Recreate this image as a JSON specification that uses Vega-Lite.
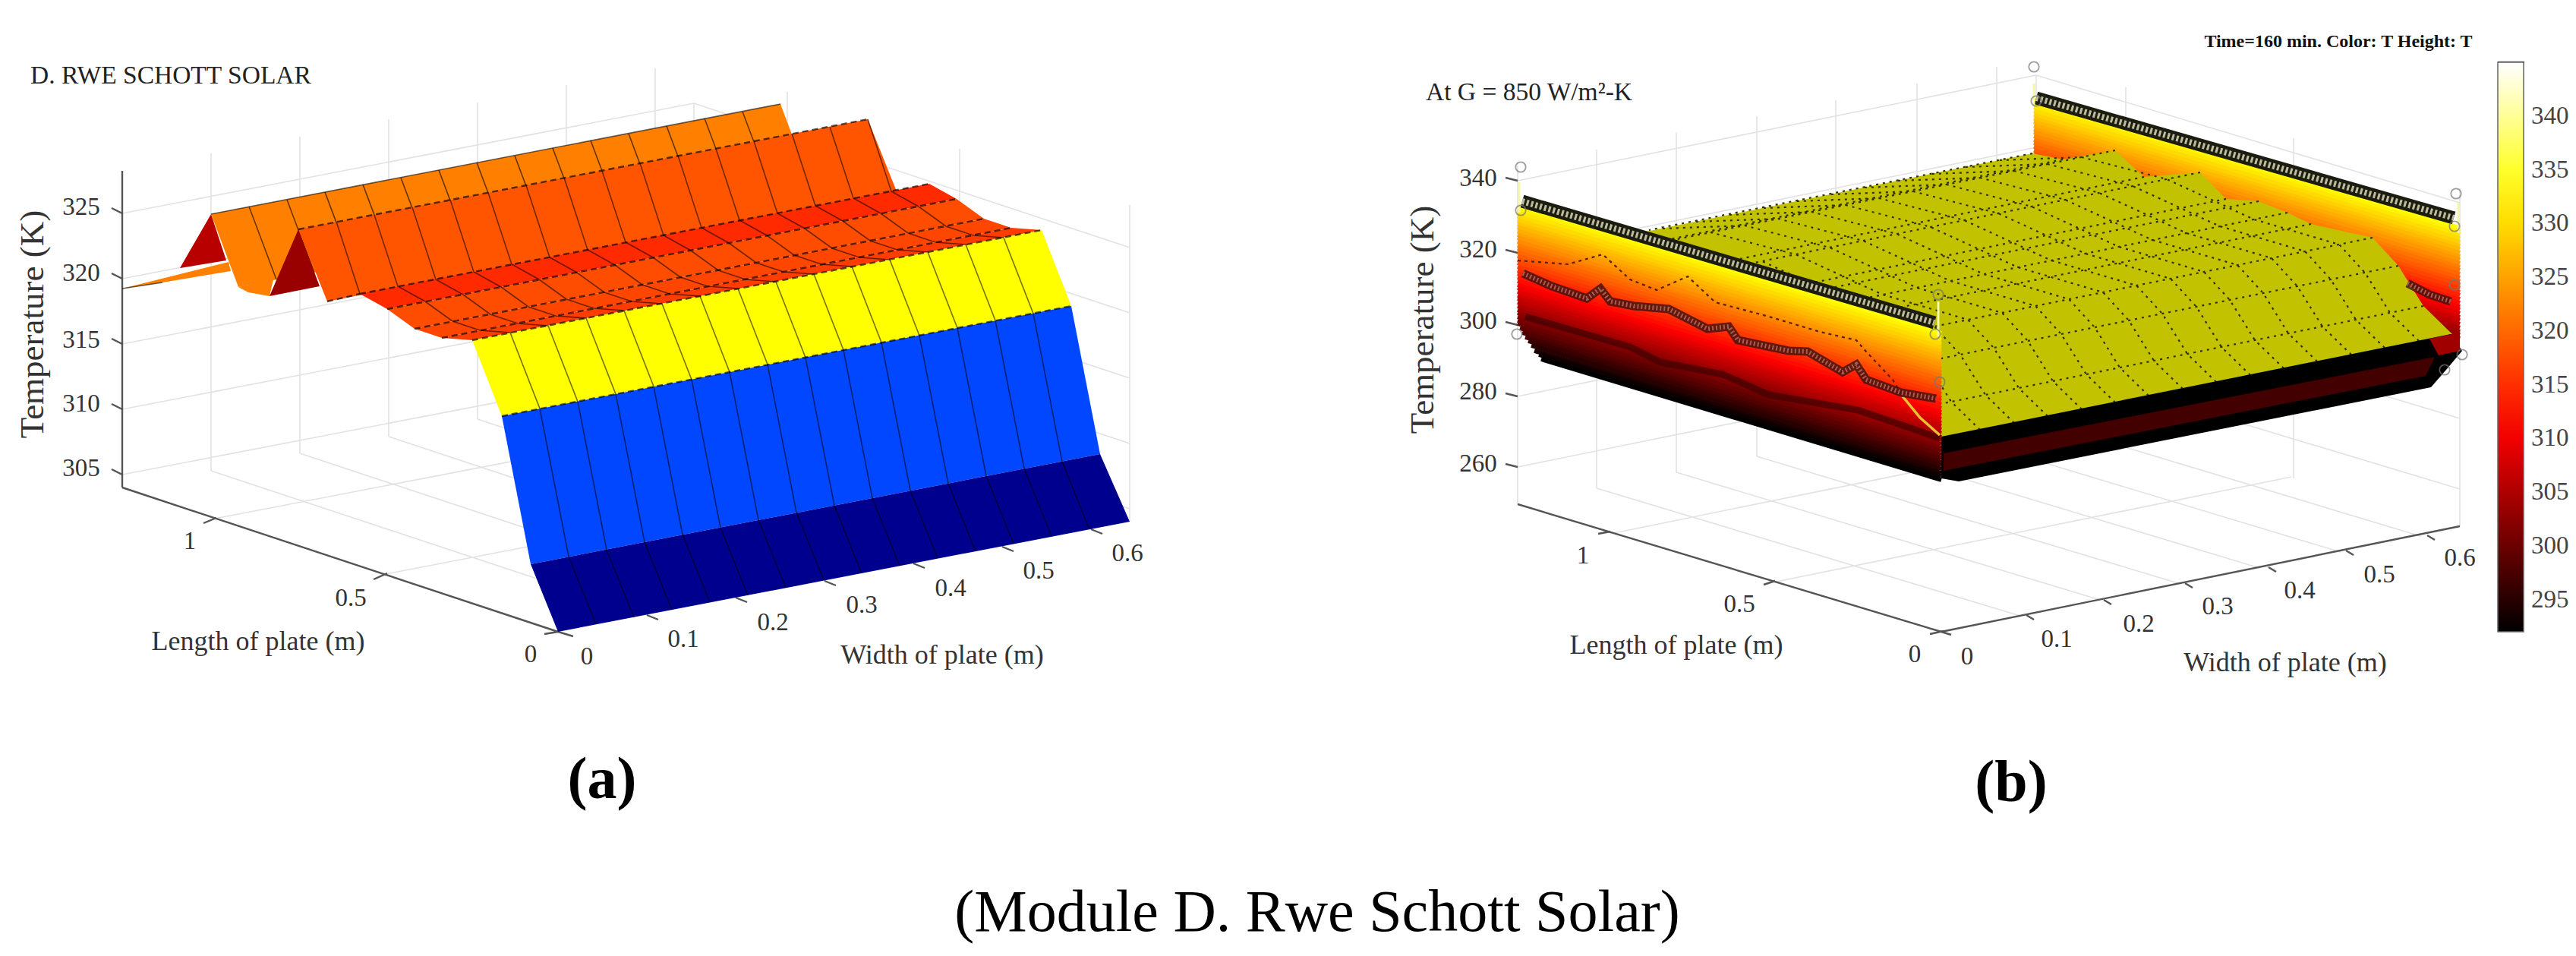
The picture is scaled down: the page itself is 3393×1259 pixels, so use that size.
{
"$schema":"https://vega.github.io/schema/vega-lite/v6.json",
"width":3393,"height":1259,"autosize":{"type":"none"},"padding":0,"background":"white",
"config":{"view":{"stroke":null}},
"resolve":{"scale":{"color":"independent"}},
"datasets":{
"grid":[
{"x":161,"y":281,"x2":914,"y2":136},{"x":161,"y":367,"x2":914,"y2":222},{"x":161,"y":453,"x2":914,"y2":308},{"x":161,"y":539,"x2":914,"y2":394},{"x":161,"y":625,"x2":914,"y2":480},
{"x":914,"y":136,"x2":1488,"y2":326},{"x":914,"y":222,"x2":1488,"y2":412},{"x":914,"y":308,"x2":1488,"y2":498},{"x":914,"y":394,"x2":1488,"y2":584},{"x":914,"y":480,"x2":1488,"y2":670},
{"x":278,"y":202,"x2":278,"y2":620},{"x":395,"y":180,"x2":395,"y2":597},{"x":512,"y":157,"x2":512,"y2":575},{"x":629,"y":135,"x2":629,"y2":552},{"x":746,"y":112,"x2":746,"y2":530},{"x":863,"y":90,"x2":863,"y2":507},{"x":914,"y":136,"x2":914,"y2":497},
{"x":1037,"y":121,"x2":1037,"y2":538},{"x":1264,"y":196,"x2":1264,"y2":612},{"x":1488,"y":270,"x2":1488,"y2":687},
{"x":278,"y":620,"x2":852,"y2":810},{"x":395,"y":597,"x2":969,"y2":787},{"x":512,"y":575,"x2":1086,"y2":765},{"x":629,"y":552,"x2":1203,"y2":742},{"x":746,"y":530,"x2":1320,"y2":720},{"x":863,"y":507,"x2":1437,"y2":697},
{"x":283,"y":683,"x2":1036,"y2":538},{"x":503,"y":757,"x2":1256,"y2":612},
{"x":1999,"y":238,"x2":2682,"y2":99},{"x":1999,"y":333,"x2":2682,"y2":194},{"x":1999,"y":428,"x2":2682,"y2":289},{"x":1999,"y":522,"x2":2682,"y2":383},{"x":1999,"y":615,"x2":2682,"y2":476},
{"x":2682,"y":99,"x2":3240,"y2":267},{"x":2682,"y":194,"x2":3240,"y2":362},{"x":2682,"y":289,"x2":3240,"y2":457},{"x":2682,"y":383,"x2":3240,"y2":551},{"x":2682,"y":476,"x2":3240,"y2":644},
{"x":1999,"y":218,"x2":1999,"y2":664},{"x":2103,"y":197,"x2":2103,"y2":643},{"x":2208,"y":175,"x2":2208,"y2":622},{"x":2314,"y":153,"x2":2314,"y2":601},{"x":2418,"y":132,"x2":2418,"y2":580},{"x":2525,"y":110,"x2":2525,"y2":559},{"x":2630,"y":88,"x2":2630,"y2":538},{"x":2682,"y":99,"x2":2682,"y2":525},{"x":2800,"y":115,"x2":2800,"y2":561},{"x":3021,"y":182,"x2":3021,"y2":630},{"x":3240,"y":248,"x2":3240,"y2":693},
{"x":2103,"y":643,"x2":2661,"y2":811},{"x":2208,"y":622,"x2":2766,"y2":790},{"x":2314,"y":601,"x2":2872,"y2":769},{"x":2418,"y":580,"x2":2976,"y2":748},{"x":2525,"y":559,"x2":3083,"y2":727},{"x":2630,"y":538,"x2":3188,"y2":706},
{"x":2121,"y":703,"x2":2804,"y2":564},{"x":2335,"y":767,"x2":3018,"y2":628}
],
"axes":[
{"x":161,"y":225,"x2":161,"y2":642},{"x":161,"y":642,"x2":735,"y2":832},
{"x":147,"y":274,"x2":161,"y2":281},{"x":147,"y":360,"x2":161,"y2":367},{"x":147,"y":446,"x2":161,"y2":453},{"x":147,"y":532,"x2":161,"y2":539},{"x":147,"y":618,"x2":161,"y2":625},
{"x":268,"y":689,"x2":285,"y2":682},{"x":492,"y":763,"x2":510,"y2":755},{"x":717,"y":835,"x2":735,"y2":832},
{"x":735,"y":832,"x2":755,"y2":838},{"x":852,"y":810,"x2":867,"y2":816},{"x":969,"y":787,"x2":984,"y2":793},{"x":1086,"y":765,"x2":1101,"y2":771},{"x":1203,"y":742,"x2":1218,"y2":748},{"x":1320,"y":720,"x2":1335,"y2":726},{"x":1437,"y":697,"x2":1452,"y2":703},
{"x":1999,"y":664,"x2":2557,"y2":832},{"x":2557,"y":832,"x2":3240,"y2":693},
{"x":1983,"y":234,"x2":1999,"y2":238},{"x":1983,"y":329,"x2":1999,"y2":333},{"x":1983,"y":424,"x2":1999,"y2":428},{"x":1983,"y":518,"x2":1999,"y2":522},{"x":1983,"y":611,"x2":1999,"y2":615},
{"x":2105,"y":703,"x2":2121,"y2":700},{"x":2323,"y":770,"x2":2338,"y2":765},{"x":2542,"y":835,"x2":2560,"y2":831},
{"x":2557,"y":832,"x2":2570,"y2":836},{"x":2669,"y":810,"x2":2679,"y2":816},{"x":2771,"y":790,"x2":2781,"y2":796},{"x":2878,"y":768,"x2":2888,"y2":774},{"x":2988,"y":747,"x2":2998,"y2":753},{"x":3090,"y":725,"x2":3100,"y2":731},{"x":3197,"y":705,"x2":3207,"y2":711},
{"x":3290,"y":82,"x2":3325,"y2":82},
{"x":3318,"y":152,"x2":3324,"y2":152},{"x":3318,"y":222,"x2":3324,"y2":222},{"x":3318,"y":293,"x2":3324,"y2":293},{"x":3318,"y":364,"x2":3324,"y2":364},{"x":3318,"y":435,"x2":3324,"y2":435},{"x":3318,"y":506,"x2":3324,"y2":506},{"x":3318,"y":577,"x2":3324,"y2":577},{"x":3318,"y":649,"x2":3324,"y2":649},{"x":3318,"y":720,"x2":3324,"y2":720},{"x":3318,"y":790,"x2":3324,"y2":790}
],
"aBack":[
{"p":"strip","b":"orange","x":161,"y":380},{"p":"strip","b":"orange","x":301,"y":345},{"p":"strip","b":"orange","x":304,"y":357},{"p":"strip","b":"orange","x":214,"y":372},
{"p":"tri1","b":"darkred","x":278,"y":282},{"p":"tri1","b":"darkred","x":237,"y":353},{"p":"tri1","b":"darkred","x":298,"y":343},
{"p":"rowA","b":"orange","x":278,"y":282},{"p":"rowA","b":"orange","x":1028,"y":137},{"p":"rowA","b":"orange","x":1064,"y":233},{"p":"rowA","b":"orange","x":314,"y":378},
{"p":"rowB","b":"orange","x":314,"y":378},{"p":"rowB","b":"orange","x":360,"y":368},{"p":"rowB","b":"orange","x":355,"y":390},{"p":"rowB","b":"orange","x":327,"y":385}
],
"aBackCols":[
{"x":328,"y":272,"x2":364,"y2":368},{"x":378,"y":263,"x2":414,"y2":359},{"x":428,"y":253,"x2":464,"y2":349},{"x":478,"y":243,"x2":514,"y2":339},{"x":528,"y":234,"x2":564,"y2":330},{"x":578,"y":224,"x2":614,"y2":320},{"x":628,"y":214,"x2":664,"y2":310},{"x":678,"y":205,"x2":714,"y2":301},{"x":728,"y":195,"x2":764,"y2":291},{"x":778,"y":185,"x2":814,"y2":281},{"x":828,"y":176,"x2":864,"y2":272},{"x":878,"y":166,"x2":914,"y2":262},{"x":928,"y":156,"x2":964,"y2":252},{"x":978,"y":147,"x2":1014,"y2":243},
{"x":278,"y":282,"x2":1028,"y2":137},{"x":161,"y":380,"x2":214,"y2":372}
],
"aFront":[
{"p":"tri2","b":"maroon","x":393,"y":302},{"p":"tri2","b":"maroon","x":355,"y":390},{"p":"tri2","b":"maroon","x":421,"y":377},
{"p":"wall","b":"orangered","x":393,"y":302},{"p":"wall","b":"orangered","x":1143,"y":157},{"p":"wall","b":"orangered","x":1181,"y":252},{"p":"wall","b":"orangered","x":431,"y":397},
{"p":"D","b":"scarlet","x":474,"y":387},{"p":"D","b":"scarlet","x":1224,"y":242},{"p":"D","b":"scarlet","x":1260,"y":262},{"p":"D","b":"scarlet","x":510,"y":407},
{"p":"E","b":"red1","x":510,"y":407},{"p":"E","b":"red1","x":1260,"y":262},{"p":"E","b":"red1","x":1296,"y":288},{"p":"E","b":"red1","x":546,"y":433},
{"p":"F","b":"red2","x":546,"y":433},{"p":"F","b":"red2","x":1296,"y":288},{"p":"F","b":"red2","x":1332,"y":300},{"p":"F","b":"red2","x":582,"y":445},
{"p":"G","b":"red3","x":582,"y":445},{"p":"G","b":"red3","x":1332,"y":300},{"p":"G","b":"red3","x":1372,"y":303},{"p":"G","b":"red3","x":622,"y":448},
{"p":"Y","b":"yellow","x":622,"y":448},{"p":"Y","b":"yellow","x":1372,"y":303},{"p":"Y","b":"yellow","x":1411,"y":403},{"p":"Y","b":"yellow","x":661,"y":548},
{"p":"L","b":"blue","x":661,"y":548},{"p":"L","b":"blue","x":1411,"y":403},{"p":"L","b":"blue","x":1449,"y":598},{"p":"L","b":"blue","x":699,"y":743},
{"p":"N","b":"navy","x":699,"y":743},{"p":"N","b":"navy","x":1449,"y":598},{"p":"N","b":"navy","x":1488,"y":687},{"p":"N","b":"navy","x":735,"y":832}
],
"aCols":[
{"c":0,"x":443,"y":292},{"c":0,"x":474,"y":387},
{"c":1,"x":493,"y":283},{"c":1,"x":524,"y":377},{"c":1,"x":560,"y":397},{"c":1,"x":596,"y":423},{"c":1,"x":632,"y":435},{"c":1,"x":672,"y":438},{"c":1,"x":711,"y":538},{"c":1,"x":749,"y":733},{"c":1,"x":785,"y":822},
{"c":2,"x":543,"y":273},{"c":2,"x":574,"y":368},{"c":2,"x":610,"y":388},{"c":2,"x":646,"y":414},{"c":2,"x":682,"y":426},{"c":2,"x":722,"y":429},{"c":2,"x":761,"y":529},{"c":2,"x":799,"y":724},{"c":2,"x":835,"y":813},
{"c":3,"x":593,"y":263},{"c":3,"x":624,"y":358},{"c":3,"x":660,"y":378},{"c":3,"x":696,"y":404},{"c":3,"x":732,"y":416},{"c":3,"x":772,"y":419},{"c":3,"x":811,"y":519},{"c":3,"x":849,"y":714},{"c":3,"x":885,"y":803},
{"c":4,"x":643,"y":254},{"c":4,"x":674,"y":348},{"c":4,"x":710,"y":368},{"c":4,"x":746,"y":394},{"c":4,"x":782,"y":406},{"c":4,"x":822,"y":409},{"c":4,"x":861,"y":509},{"c":4,"x":899,"y":704},{"c":4,"x":935,"y":793},
{"c":5,"x":693,"y":244},{"c":5,"x":724,"y":339},{"c":5,"x":760,"y":359},{"c":5,"x":796,"y":385},{"c":5,"x":832,"y":397},{"c":5,"x":872,"y":400},{"c":5,"x":911,"y":500},{"c":5,"x":949,"y":695},{"c":5,"x":985,"y":784},
{"c":6,"x":743,"y":234},{"c":6,"x":774,"y":329},{"c":6,"x":810,"y":349},{"c":6,"x":846,"y":375},{"c":6,"x":882,"y":387},{"c":6,"x":922,"y":390},{"c":6,"x":961,"y":490},{"c":6,"x":999,"y":685},{"c":6,"x":1035,"y":774},
{"c":7,"x":793,"y":225},{"c":7,"x":824,"y":319},{"c":7,"x":860,"y":339},{"c":7,"x":896,"y":365},{"c":7,"x":932,"y":377},{"c":7,"x":972,"y":380},{"c":7,"x":1011,"y":480},{"c":7,"x":1049,"y":675},{"c":7,"x":1085,"y":764},
{"c":8,"x":843,"y":215},{"c":8,"x":874,"y":310},{"c":8,"x":910,"y":330},{"c":8,"x":946,"y":356},{"c":8,"x":982,"y":368},{"c":8,"x":1022,"y":371},{"c":8,"x":1061,"y":471},{"c":8,"x":1099,"y":666},{"c":8,"x":1135,"y":755},
{"c":9,"x":893,"y":205},{"c":9,"x":924,"y":300},{"c":9,"x":960,"y":320},{"c":9,"x":996,"y":346},{"c":9,"x":1032,"y":358},{"c":9,"x":1072,"y":361},{"c":9,"x":1111,"y":461},{"c":9,"x":1149,"y":656},{"c":9,"x":1185,"y":745},
{"c":10,"x":943,"y":196},{"c":10,"x":974,"y":290},{"c":10,"x":1010,"y":310},{"c":10,"x":1046,"y":336},{"c":10,"x":1082,"y":348},{"c":10,"x":1122,"y":351},{"c":10,"x":1161,"y":451},{"c":10,"x":1199,"y":646},{"c":10,"x":1235,"y":735},
{"c":11,"x":993,"y":186},{"c":11,"x":1024,"y":281},{"c":11,"x":1060,"y":301},{"c":11,"x":1096,"y":327},{"c":11,"x":1132,"y":339},{"c":11,"x":1172,"y":342},{"c":11,"x":1211,"y":442},{"c":11,"x":1249,"y":637},{"c":11,"x":1285,"y":726},
{"c":12,"x":1043,"y":176},{"c":12,"x":1074,"y":271},{"c":12,"x":1110,"y":291},{"c":12,"x":1146,"y":317},{"c":12,"x":1182,"y":329},{"c":12,"x":1222,"y":332},{"c":12,"x":1261,"y":432},{"c":12,"x":1299,"y":627},{"c":12,"x":1335,"y":716},
{"c":13,"x":1093,"y":167},{"c":13,"x":1124,"y":261},{"c":13,"x":1160,"y":281},{"c":13,"x":1196,"y":307},{"c":13,"x":1232,"y":319},{"c":13,"x":1272,"y":322},{"c":13,"x":1311,"y":422},{"c":13,"x":1349,"y":617},{"c":13,"x":1385,"y":706},
{"c":14,"x":1143,"y":157},{"c":14,"x":1174,"y":252},{"c":14,"x":1210,"y":272},{"c":14,"x":1246,"y":298},{"c":14,"x":1282,"y":310},{"c":14,"x":1322,"y":313},{"c":14,"x":1361,"y":413},{"c":14,"x":1399,"y":608},{"c":14,"x":1435,"y":697}
],
"aRows":[
{"x":393,"y":302,"x2":1143,"y2":157},{"x":431,"y":397,"x2":474,"y2":387},{"x":474,"y":387,"x2":1224,"y2":242},{"x":510,"y":407,"x2":1260,"y2":262},{"x":546,"y":433,"x2":1296,"y2":288},{"x":582,"y":445,"x2":1332,"y2":300},{"x":622,"y":448,"x2":1372,"y2":303},{"x":661,"y":548,"x2":1411,"y2":403}
],
"farWall":[
{"T":333,"x":2679,"y":132,"x2":3240,"y2":300},{"T":332,"x":2679,"y":137,"x2":3240,"y2":305},{"T":331,"x":2679,"y":141,"x2":3240,"y2":309},{"T":330,"x":2679,"y":146,"x2":3240,"y2":314},{"T":329,"x":2679,"y":151,"x2":3240,"y2":319},{"T":328,"x":2679,"y":156,"x2":3240,"y2":324},{"T":327,"x":2679,"y":160,"x2":3240,"y2":328},{"T":326,"x":2679,"y":165,"x2":3240,"y2":333},{"T":325,"x":2679,"y":170,"x2":3240,"y2":338},{"T":324,"x":2679,"y":174,"x2":3240,"y2":342},{"T":323,"x":2679,"y":179,"x2":3240,"y2":347},{"T":322,"x":2679,"y":184,"x2":3240,"y2":352},{"T":321,"x":2679,"y":188,"x2":3240,"y2":356},{"T":320,"x":2679,"y":193,"x2":3240,"y2":361},{"T":319,"x":2679,"y":198,"x2":3240,"y2":366},{"T":318,"x":2679,"y":203,"x2":3240,"y2":371},{"T":317,"x":2679,"y":207,"x2":3240,"y2":375},{"T":316,"x":2679,"y":212,"x2":3240,"y2":380},{"T":315,"x":2679,"y":217,"x2":3240,"y2":385},{"T":314,"x":2679,"y":221,"x2":3240,"y2":389},{"T":313,"x":2679,"y":226,"x2":3240,"y2":394},{"T":312,"x":2679,"y":231,"x2":3240,"y2":399},{"T":311,"x":2679,"y":236,"x2":3240,"y2":404},{"T":310,"x":2679,"y":240,"x2":3240,"y2":408},{"T":309,"x":2679,"y":245,"x2":3240,"y2":413},{"T":308,"x":2679,"y":250,"x2":3240,"y2":418},{"T":307,"x":2679,"y":254,"x2":3240,"y2":422},{"T":306,"x":2679,"y":259,"x2":3240,"y2":427},{"T":305,"x":2679,"y":264,"x2":3240,"y2":432},{"T":304,"x":2679,"y":269,"x2":3240,"y2":437},{"T":303,"x":2679,"y":273,"x2":3240,"y2":441},{"T":302,"x":2679,"y":278,"x2":3240,"y2":446}
],
"olive":[
{"x":2677,"y":202},{"x":2717,"y":210},{"x":2786,"y":198},{"x":2824,"y":233},{"x":2898,"y":227},{"x":2932,"y":262},{"x":2975,"y":265},{"x":3013,"y":280},{"x":3044,"y":295},{"x":3125,"y":313},{"x":3159,"y":350},{"x":3192,"y":403},{"x":3230,"y":440},{"x":2560,"y":576},{"x":2300,"y":500},{"x":2011,"y":337}
],
"oCols":[
{"k":1,"x":3186,"y":449},{"k":1,"x":3148,"y":412},{"k":1,"x":3115,"y":359},{"k":1,"x":3081,"y":322},{"k":1,"x":2969,"y":289},{"k":1,"x":2854,"y":236},{"k":1,"x":2742,"y":207},{"k":1,"x":2633,"y":211},
{"k":2,"x":3141,"y":458},{"k":2,"x":3103,"y":421},{"k":2,"x":3070,"y":368},{"k":2,"x":3036,"y":331},{"k":2,"x":2924,"y":298},{"k":2,"x":2809,"y":245},{"k":2,"x":2697,"y":216},{"k":2,"x":2588,"y":220},
{"k":3,"x":3097,"y":467},{"k":3,"x":3059,"y":430},{"k":3,"x":3026,"y":377},{"k":3,"x":2992,"y":340},{"k":3,"x":2880,"y":307},{"k":3,"x":2765,"y":254},{"k":3,"x":2653,"y":225},{"k":3,"x":2544,"y":229},
{"k":4,"x":3052,"y":476},{"k":4,"x":3014,"y":439},{"k":4,"x":2981,"y":386},{"k":4,"x":2947,"y":349},{"k":4,"x":2835,"y":316},{"k":4,"x":2720,"y":263},{"k":4,"x":2608,"y":234},{"k":4,"x":2499,"y":238},
{"k":5,"x":3008,"y":485},{"k":5,"x":2970,"y":448},{"k":5,"x":2937,"y":395},{"k":5,"x":2903,"y":358},{"k":5,"x":2791,"y":325},{"k":5,"x":2676,"y":272},{"k":5,"x":2564,"y":243},{"k":5,"x":2455,"y":247},
{"k":6,"x":2964,"y":494},{"k":6,"x":2926,"y":457},{"k":6,"x":2893,"y":404},{"k":6,"x":2859,"y":367},{"k":6,"x":2747,"y":334},{"k":6,"x":2632,"y":281},{"k":6,"x":2520,"y":252},{"k":6,"x":2411,"y":256},
{"k":7,"x":2919,"y":503},{"k":7,"x":2881,"y":466},{"k":7,"x":2848,"y":413},{"k":7,"x":2814,"y":376},{"k":7,"x":2702,"y":343},{"k":7,"x":2587,"y":290},{"k":7,"x":2475,"y":261},{"k":7,"x":2366,"y":265},
{"k":8,"x":2875,"y":512},{"k":8,"x":2837,"y":475},{"k":8,"x":2804,"y":422},{"k":8,"x":2770,"y":385},{"k":8,"x":2658,"y":352},{"k":8,"x":2543,"y":299},{"k":8,"x":2431,"y":270},{"k":8,"x":2322,"y":274},
{"k":9,"x":2830,"y":521},{"k":9,"x":2792,"y":484},{"k":9,"x":2759,"y":431},{"k":9,"x":2725,"y":394},{"k":9,"x":2613,"y":361},{"k":9,"x":2498,"y":308},{"k":9,"x":2386,"y":279},{"k":9,"x":2277,"y":283},
{"k":10,"x":2786,"y":530},{"k":10,"x":2748,"y":493},{"k":10,"x":2715,"y":440},{"k":10,"x":2681,"y":403},{"k":10,"x":2569,"y":370},{"k":10,"x":2454,"y":317},{"k":10,"x":2342,"y":288},{"k":10,"x":2233,"y":292},
{"k":11,"x":2742,"y":539},{"k":11,"x":2704,"y":502},{"k":11,"x":2671,"y":449},{"k":11,"x":2637,"y":412},{"k":11,"x":2525,"y":379},{"k":11,"x":2410,"y":326},{"k":11,"x":2298,"y":297},{"k":11,"x":2189,"y":301},
{"k":12,"x":2697,"y":548},{"k":12,"x":2659,"y":511},{"k":12,"x":2626,"y":458},{"k":12,"x":2592,"y":421},{"k":12,"x":2480,"y":388},{"k":12,"x":2365,"y":335},{"k":12,"x":2253,"y":306},
{"k":13,"x":2653,"y":557},{"k":13,"x":2615,"y":520},{"k":13,"x":2582,"y":467},{"k":13,"x":2548,"y":430},{"k":13,"x":2436,"y":397},{"k":13,"x":2321,"y":344},
{"k":14,"x":2608,"y":566},{"k":14,"x":2570,"y":529},{"k":14,"x":2537,"y":476},{"k":14,"x":2503,"y":439},{"k":14,"x":2391,"y":406}
],
"oRows":[
{"x":2677,"y":202,"x2":2172,"y2":303},{"x":3192,"y":403,"x2":2526,"y2":538},{"x":3159,"y":350,"x2":2493,"y2":485},{"x":3125,"y":313,"x2":2459,"y2":448},{"x":3044,"y":295,"x2":2378,"y2":430},{"x":3013,"y":280,"x2":2347,"y2":415},{"x":2975,"y":265,"x2":2309,"y2":400},{"x":2932,"y":262,"x2":2266,"y2":397},{"x":2898,"y":227,"x2":2232,"y2":362},{"x":2824,"y":233,"x2":2158,"y2":368},{"x":2786,"y":198,"x2":2120,"y2":333},{"x":2717,"y":210,"x2":2175,"y2":320}
],
"nearWall":[
{"T":333,"x":1999,"y":271,"x2":2557,"y2":439},{"T":332,"x":1999,"y":276,"x2":2557,"y2":444},{"T":331,"x":1999,"y":280,"x2":2557,"y2":448},{"T":330,"x":1999,"y":285,"x2":2557,"y2":453},{"T":329,"x":1999,"y":290,"x2":2557,"y2":458},{"T":328,"x":1999,"y":295,"x2":2557,"y2":463},{"T":327,"x":1999,"y":299,"x2":2557,"y2":467},{"T":326,"x":1999,"y":304,"x2":2557,"y2":472},{"T":325,"x":1999,"y":309,"x2":2557,"y2":477},{"T":324,"x":1999,"y":313,"x2":2557,"y2":481},{"T":323,"x":1999,"y":318,"x2":2557,"y2":486},{"T":322,"x":1999,"y":323,"x2":2557,"y2":491},{"T":321,"x":1999,"y":327,"x2":2557,"y2":495},{"T":320,"x":1999,"y":332,"x2":2557,"y2":500},{"T":319,"x":1999,"y":337,"x2":2557,"y2":505},{"T":318,"x":1999,"y":342,"x2":2557,"y2":510},{"T":317,"x":1999,"y":346,"x2":2557,"y2":514},{"T":316,"x":1999,"y":351,"x2":2557,"y2":519},{"T":315,"x":1999,"y":356,"x2":2557,"y2":524},{"T":314,"x":1999,"y":360,"x2":2557,"y2":528},{"T":313,"x":1999,"y":365,"x2":2557,"y2":533},{"T":312,"x":1999,"y":370,"x2":2557,"y2":538},{"T":311,"x":1999,"y":375,"x2":2557,"y2":543},{"T":310,"x":1999,"y":379,"x2":2557,"y2":547},{"T":309,"x":1999,"y":384,"x2":2557,"y2":552},{"T":308,"x":1999,"y":389,"x2":2557,"y2":557},{"T":307,"x":1999,"y":393,"x2":2557,"y2":561},{"T":306,"x":1999,"y":398,"x2":2557,"y2":566},{"T":305,"x":1999,"y":403,"x2":2557,"y2":571},{"T":304,"x":1999,"y":408,"x2":2557,"y2":576},{"T":303,"x":1999,"y":412,"x2":2557,"y2":580},{"T":302,"x":1999,"y":417,"x2":2557,"y2":585},{"T":301,"x":1999,"y":422,"x2":2557,"y2":590},{"T":300,"x":1999,"y":426,"x2":2557,"y2":594},
{"T":299,"x":2002,"y":432,"x2":2557,"y2":599},{"T":298,"x":2005,"y":438,"x2":2557,"y2":604},{"T":297,"x":2009,"y":444,"x2":2557,"y2":609},{"T":296,"x":2013,"y":449,"x2":2557,"y2":613},{"T":295,"x":2017,"y":455,"x2":2557,"y2":618},{"T":294,"x":2021,"y":462,"x2":2557,"y2":623},{"T":293,"x":2027,"y":467,"x2":2557,"y2":627},{"T":292,"x":2030,"y":473,"x2":2557,"y2":632}
],
"frontFace":[
{"p":"black","T":292,"x":2557,"y":575},{"p":"black","T":292,"x":3228,"y":440},{"p":"black","T":292,"x":3243,"y":462},{"p":"black","T":292,"x":3222,"y":487},{"p":"black","T":292,"x":3202,"y":510},{"p":"black","T":292,"x":2580,"y":634},{"p":"black","T":292,"x":2557,"y":630},
{"p":"dark","T":297,"x":2560,"y":597},{"p":"dark","T":297,"x":3207,"y":470},{"p":"dark","T":297,"x":3195,"y":495},{"p":"dark","T":297,"x":2560,"y":620},
{"p":"tail","T":304,"x":3200,"y":446},{"p":"tail","T":304,"x":3240,"y":438},{"p":"tail","T":304,"x":3240,"y":462},{"p":"tail","T":304,"x":3212,"y":468}
],
"contourThin":[
{"x":1999,"y":343},{"x":2065,"y":348},{"x":2111,"y":335},{"x":2147,"y":368},{"x":2182,"y":382},{"x":2223,"y":364},{"x":2259,"y":398},{"x":2330,"y":417},{"x":2397,"y":437},{"x":2445,"y":448},{"x":2458,"y":463},{"x":2493,"y":500},{"x":2506,"y":522}
],
"contourYellow":[
{"x":2506,"y":522},{"x":2529,"y":550},{"x":2555,"y":573}
],
"contourThick":[
{"c":"l","x":2006,"y":360},{"c":"l","x":2044,"y":377},{"c":"l","x":2090,"y":393},{"c":"l","x":2108,"y":380},{"c":"l","x":2121,"y":397},{"c":"l","x":2152,"y":403},{"c":"l","x":2198,"y":407},{"c":"l","x":2249,"y":433},{"c":"l","x":2277,"y":430},{"c":"l","x":2289,"y":448},{"c":"l","x":2356,"y":462},{"c":"l","x":2381,"y":463},{"c":"l","x":2427,"y":490},{"c":"l","x":2445,"y":480},{"c":"l","x":2458,"y":500},{"c":"l","x":2504,"y":517},{"c":"l","x":2550,"y":525},
{"c":"r","x":3171,"y":373},{"c":"r","x":3200,"y":388},{"c":"r","x":3228,"y":397}
],
"contourDark":[
{"x":2009,"y":417},{"x":2147,"y":457},{"x":2187,"y":477},{"x":2269,"y":493},{"x":2330,"y":520},{"x":2447,"y":540},{"x":2555,"y":577}
],
"bands":[
{"x":2005,"y":265,"x2":2548,"y2":425},{"x":2682,"y":129,"x2":3232,"y2":287}
],
"edges":[
{"x":2001,"y":240,"x2":2001,"y2":280},{"x":2553,"y":397,"x2":2553,"y2":443},{"x":2679,"y":110,"x2":2679,"y2":140},{"x":3238,"y":267,"x2":3238,"y2":307}
],
"circles":[
{"x":2003,"y":220},{"x":2553,"y":388},{"x":2555,"y":503},{"x":2679,"y":88},{"x":3235,"y":255},{"x":2682,"y":133},{"x":3233,"y":298},{"x":2003,"y":277},{"x":1998,"y":440},{"x":2549,"y":440},{"x":3243,"y":467},{"x":3220,"y":487},{"x":3233,"y":375}
],
"tickLabels":[
{"t":"325","x":107,"y":273},{"t":"320","x":107,"y":360},{"t":"315","x":107,"y":448},{"t":"310","x":107,"y":532},{"t":"305","x":107,"y":617},
{"t":"1","x":250,"y":713},{"t":"0.5","x":462,"y":788},{"t":"0","x":699,"y":862},{"t":"0","x":773,"y":865},
{"t":"0.1","x":900,"y":842},{"t":"0.2","x":1018,"y":820},{"t":"0.3","x":1135,"y":797},{"t":"0.4","x":1252,"y":775},{"t":"0.5","x":1368,"y":752},{"t":"0.6","x":1485,"y":729},
{"t":"340","x":1947,"y":235},{"t":"320","x":1947,"y":329},{"t":"300","x":1947,"y":423},{"t":"280","x":1947,"y":516},{"t":"260","x":1947,"y":611},
{"t":"1","x":2085,"y":732},{"t":"0.5","x":2291,"y":796},{"t":"0","x":2522,"y":862},{"t":"0","x":2591,"y":865},
{"t":"0.1","x":2709,"y":842},{"t":"0.2","x":2817,"y":822},{"t":"0.3","x":2921,"y":799},{"t":"0.4","x":3029,"y":778},{"t":"0.5","x":3134,"y":757},{"t":"0.6","x":3240,"y":735}
],
"axisTitles":[
{"t":"Length of plate (m)","x":340,"y":845},{"t":"Width of plate (m)","x":1241,"y":863},{"t":"Length of plate (m)","x":2208,"y":850},{"t":"Width of plate (m)","x":3010,"y":873}
],
"zTitles":[
{"t":"Temperature (K)","x":43,"y":427},{"t":"Temperature (K)","x":1874,"y":421}
],
"panelTitles":[
{"t":"D. RWE SCHOTT SOLAR","x":225,"y":100},{"t":"At G = 850 W/m²-K","x":2014,"y":122}
],
"runInfo":[{"t":"Time=160 min.   Color: T  Height: T","x":3080,"y":55}],
"subLabels":[{"t":"(a)","x":793,"y":1028},{"t":"(b)","x":2649,"y":1032}],
"caption":[{"t":"(Module D. Rwe Schott Solar)","x":1735,"y":1203}]
},
"encoding":{
"x":{"field":"x","type":"quantitative","scale":{"domain":[0,3393],"nice":false,"zero":false},"axis":null},
"y":{"field":"y","type":"quantitative","scale":{"domain":[1259,0],"nice":false,"zero":false},"axis":null}
},
"layer":[
{"data":{"name":"grid"},"mark":{"type":"rule","color":"#e2e2e2","strokeWidth":1.6},"encoding":{"x2":{"field":"x2"},"y2":{"field":"y2"}}},
{"data":{"name":"axes"},"mark":{"type":"rule","color":"#555555","strokeWidth":2.4},"encoding":{"x2":{"field":"x2"},"y2":{"field":"y2"}}},
{"data":{"name":"aBack"},"mark":{"type":"line","filled":true},"encoding":{"order":{"value":null},"detail":{"field":"p"},"color":{"field":"b","type":"nominal","legend":null,"scale":{"domain":["orange","darkred","maroon","orangered","scarlet","red1","red2","red3","yellow","blue","navy"],"range":["#ff8000","#b80000","#990000","#ff5500","#ff2a00","#ff4d00","#ff4600","#ff3c00","#ffff00","#0047ff","#00008f"]}}}},
{"data":{"name":"aBackCols"},"mark":{"type":"rule","color":"#000000","opacity":0.6,"strokeWidth":1.6},"encoding":{"x2":{"field":"x2"},"y2":{"field":"y2"}}},
{"data":{"name":"aFront"},"mark":{"type":"line","filled":true},"encoding":{"order":{"value":null},"detail":{"field":"p"},"color":{"field":"b","type":"nominal","legend":null,"scale":{"domain":["orange","darkred","maroon","orangered","scarlet","red1","red2","red3","yellow","blue","navy"],"range":["#ff8000","#b80000","#990000","#ff5500","#ff2a00","#ff4d00","#ff4600","#ff3c00","#ffff00","#0047ff","#00008f"]}}}},
{"data":{"name":"aCols"},"mark":{"type":"line","color":"#000000","opacity":0.55,"strokeWidth":1.6},"encoding":{"order":{"value":null},"detail":{"field":"c"}}},
{"data":{"name":"aRows"},"mark":{"type":"rule","color":"#000000","opacity":0.65,"strokeWidth":2.4,"strokeDash":[8,5]},"encoding":{"x2":{"field":"x2"},"y2":{"field":"y2"}}},
{"data":{"name":"farWall"},"mark":{"type":"rule","strokeWidth":6},"encoding":{"x2":{"field":"x2"},"y2":{"field":"y2"},"color":{"field":"T","type":"quantitative","scale":{"domain":[292,311,333,345],"range":["#000000","#ff0000","#ffff00","#ffffff"],"interpolate":"rgb"},"legend":{"type":"gradient","orient":"none","legendX":3290,"legendY":82,"direction":"vertical","title":null,"padding":0,"gradientLength":750,"gradientThickness":34,"gradientStrokeColor":"#666666","gradientStrokeWidth":1.5,"values":[295,300,305,310,315,320,325,330,335,340],"labelFont":"Liberation Serif","labelFontSize":33,"labelColor":"#444444","labelOffset":10,"labelOverlap":false}}}},
{"data":{"name":"olive"},"mark":{"type":"line","filled":true,"color":"#c2c200"},"encoding":{"order":{"value":null}}},
{"data":{"name":"oCols"},"mark":{"type":"line","color":"#333300","strokeWidth":2.2,"strokeDash":[3,6]},"encoding":{"order":{"value":null},"detail":{"field":"k"}}},
{"data":{"name":"oRows"},"mark":{"type":"rule","color":"#333300","strokeWidth":2.2,"strokeDash":[3,6]},"encoding":{"x2":{"field":"x2"},"y2":{"field":"y2"}}},
{"data":{"name":"nearWall"},"mark":{"type":"rule","strokeWidth":6},"encoding":{"x2":{"field":"x2"},"y2":{"field":"y2"},"color":{"field":"T","type":"quantitative","legend":null,"scale":{"domain":[292,311,333,345],"range":["#000000","#ff0000","#ffff00","#ffffff"],"interpolate":"rgb"}}}},
{"data":{"name":"frontFace"},"mark":{"type":"line","filled":true},"encoding":{"order":{"value":null},"detail":{"field":"p"},"color":{"field":"T","type":"quantitative","legend":null,"scale":{"domain":[292,311,333,345],"range":["#000000","#ff0000","#ffff00","#ffffff"],"interpolate":"rgb"}}}},
{"data":{"name":"contourDark"},"mark":{"type":"line","color":"#3a0000","opacity":0.65,"strokeWidth":9},"encoding":{"order":{"value":null}}},
{"data":{"name":"contourThin"},"mark":{"type":"line","color":"#5a2000","strokeWidth":2.2,"strokeDash":[4,5]},"encoding":{"order":{"value":null}}},
{"data":{"name":"contourYellow"},"mark":{"type":"line","color":"#e8c030","strokeWidth":3.5},"encoding":{"order":{"value":null}}},
{"data":{"name":"contourThick"},"mark":{"type":"line","color":"#3d1010","opacity":0.8,"strokeWidth":11},"encoding":{"order":{"value":null},"detail":{"field":"c"}}},
{"data":{"name":"contourThick"},"mark":{"type":"line","color":"#a06050","strokeWidth":6,"strokeDash":[2,3]},"encoding":{"order":{"value":null},"detail":{"field":"c"}}},
{"data":{"name":"bands"},"mark":{"type":"rule","color":"#1c1c10","strokeWidth":17},"encoding":{"x2":{"field":"x2"},"y2":{"field":"y2"}}},
{"data":{"name":"bands"},"mark":{"type":"rule","color":"#bcbc9c","strokeWidth":8,"strokeDash":[3,3]},"encoding":{"x2":{"field":"x2"},"y2":{"field":"y2"}}},
{"data":{"name":"edges"},"mark":{"type":"rule","color":"#f6f6a8","strokeWidth":3},"encoding":{"x2":{"field":"x2"},"y2":{"field":"y2"}}},
{"data":{"name":"circles"},"mark":{"type":"point","filled":false,"color":"#777777","size":180,"strokeWidth":1.8}},
{"data":{"name":"tickLabels"},"mark":{"type":"text","font":"Liberation Serif","fontSize":33,"color":"#333333","align":"center","baseline":"middle"},"encoding":{"text":{"field":"t"}}},
{"data":{"name":"axisTitles"},"mark":{"type":"text","font":"Liberation Serif","fontSize":36,"color":"#333333","align":"center","baseline":"middle"},"encoding":{"text":{"field":"t"}}},
{"data":{"name":"zTitles"},"mark":{"type":"text","font":"Liberation Serif","fontSize":45,"angle":270,"color":"#333333","align":"center","baseline":"middle"},"encoding":{"text":{"field":"t"}}},
{"data":{"name":"panelTitles"},"mark":{"type":"text","font":"Liberation Serif","fontSize":33.5,"color":"#222222","align":"center","baseline":"middle"},"encoding":{"text":{"field":"t"}}},
{"data":{"name":"runInfo"},"mark":{"type":"text","font":"Liberation Serif","fontSize":24,"fontWeight":"bold","color":"#111111","align":"center","baseline":"middle"},"encoding":{"text":{"field":"t"}}},
{"data":{"name":"subLabels"},"mark":{"type":"text","font":"Liberation Serif","fontSize":78,"fontWeight":"bold","color":"#000000","align":"center","baseline":"middle"},"encoding":{"text":{"field":"t"}}},
{"data":{"name":"caption"},"mark":{"type":"text","font":"Liberation Serif","fontSize":78,"color":"#000000","align":"center","baseline":"middle"},"encoding":{"text":{"field":"t"}}}
]
}
